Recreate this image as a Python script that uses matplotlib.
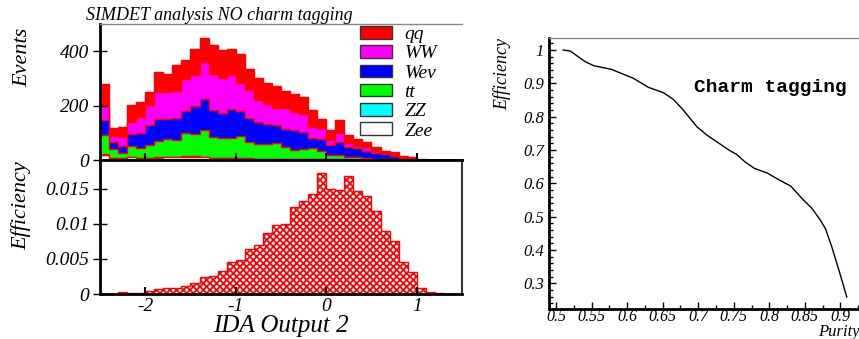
import numpy as np
import matplotlib
matplotlib.use("Agg")
import matplotlib.pyplot as plt
from matplotlib.patches import Patch
from matplotlib.ticker import MultipleLocator, FuncFormatter

plt.rcParams['font.family'] = ['Liberation Serif', 'DejaVu Serif']
plt.rcParams['font.style'] = 'italic'
plt.rcParams['hatch.linewidth'] = 1.3
plt.rcParams['axes.unicode_minus'] = False

# IDA output 2 binning: 40 bins of 0.1 from -2.5 to 1.5
edges = np.round(np.arange(-2.5, 1.51, 0.1), 2)

# events per bin for each sample
zee = [20, 8, 5, 10, 7, 8, 8, 10, 10, 12, 12, 10, 7, 6, 7, 6, 5, 4, 4, 3,
       3, 3, 3, 3, 2, 2, 2, 1, 1, 1, 1, 0, 0, 0, 0, 0, 0, 0, 0, 0]
zz = [1, 1, 1, 1, 1, 1, 2, 2, 2, 3, 3, 2, 2, 2, 2, 2, 1, 1, 1, 1,
      1, 1, 1, 1, 1, 1, 1, 1, 0, 0, 0, 0, 0, 0, 0, 0, 0, 0, 0, 0]
tt = [72, 31, 18, 40, 37, 48, 60, 64, 63, 83, 82, 100, 74, 73, 71, 79, 60, 54, 54, 60,
      45, 33, 36, 41, 31, 16, 15, 10, 9, 6, 4, 4, 3, 1, 1, 0, 0, 0, 0, 0]
wev = [54, 28, 29, 44, 55, 71, 79, 74, 80, 82, 101, 112, 100, 93, 108, 94, 89, 82, 75, 64,
       65, 73, 64, 35, 42, 36, 49, 37, 33, 27, 19, 17, 12, 5, 2, 1, 0, 0, 0, 0]
ww = [51, 20, 33, 46, 59, 74, 101, 100, 99, 116, 116, 136, 135, 128, 124, 103, 104, 79, 72, 65,
      79, 65, 64, 42, 40, 18, 31, 12, 8, 13, 9, 3, 2, 1, 1, 0, 0, 0, 0, 0]
qq = [80, 30, 36, 61, 55, 48, 72, 66, 95, 71, 93, 88, 104, 102, 96, 105, 77, 83, 78, 79,
      60, 66, 64, 61, 33, 37, 49, 31, 25, 19, 14, 10, 11, 8, 7, 2, 1, 0, 0, 0]

# charm signal efficiency per bin
eff = [0.00003, 0.00003, 0.00024, 0.0002, 0.0002, 0.0004, 0.0007, 0.00086, 0.00086, 0.0011,
       0.0016, 0.0024, 0.0025, 0.0033, 0.0045, 0.0049, 0.0064, 0.0070, 0.0087, 0.0099,
       0.0100, 0.0124, 0.0133, 0.0142, 0.0173, 0.0150, 0.0148, 0.0168, 0.0147, 0.0140,
       0.0119, 0.0090, 0.0075, 0.0045, 0.0031, 0.0009, 0.0003, 0.0001, 0.00005, 0.0]

# efficiency vs purity curve
purity = [0.510, 0.520, 0.541, 0.553, 0.578, 0.609, 0.630, 0.651, 0.665, 0.679,
          0.698, 0.712, 0.726, 0.743, 0.754, 0.766, 0.779, 0.797, 0.814, 0.830,
          0.848, 0.860, 0.872, 0.879, 0.888, 0.898, 0.909]
effic = [1.0, 0.997, 0.965, 0.953, 0.942, 0.915, 0.888, 0.872, 0.852, 0.820,
         0.770, 0.745, 0.725, 0.700, 0.687, 0.664, 0.645, 0.631, 0.610, 0.592,
         0.550, 0.525, 0.489, 0.464, 0.409, 0.339, 0.259]

samples = [("qq", qq, "#ff0000"), ("WW", ww, "#ff00ff"), ("Weν", wev, "#0000ff"),
           ("tt", tt, "#00ff00"), ("ZZ", zz, "#00ffff"), ("Zee", zee, "#ffffff")]

fig = plt.figure(figsize=(8.59, 3.39), dpi=100)
ax1 = fig.add_axes([0.1164, 0.528, 0.4214, 0.4012])
ax2 = fig.add_axes([0.1164, 0.1327, 0.4214, 0.3953])
ax3 = fig.add_axes([0.6388, 0.0876, 0.366, 0.8012])

# stacked histogram, draw cumulative from the top down
cum = np.zeros(len(qq))
stack = []
for name, vals, col in samples[::-1]:
    cum = cum + np.array(vals)
    stack.append((name, cum.copy(), col))
for name, c, col in stack[::-1]:
    ax1.stairs(c, edges, fill=True, facecolor=col, edgecolor='red', linewidth=1)

ax1.set_xlim(-2.5, 1.5)
ax1.set_ylim(0, 500)
ax1.set_xticks([-2, -1, 0, 1])
ax1.set_xticklabels([])
ax1.set_yticks([0, 200, 400])
ax1.set_ylabel("Events", fontsize=16)
ax1.yaxis.set_label_coords(-0.188, 0.757)
ax1.set_title("SIMDET analysis NO charm tagging", fontsize=13, loc='left',
              x=-0.04, pad=2)

handles = [Patch(facecolor=col, edgecolor='#333333', linewidth=1) for _, _, col in samples]
ax1.legend(handles, [s[0] for s in samples], loc='upper left', bbox_to_anchor=(0.718, 0.985),
           frameon=False, fontsize=14, handlelength=1.65, handleheight=0.62,
           labelspacing=0.11, handletextpad=0.65, borderpad=0, borderaxespad=0)

ax2.stairs(eff, edges, fill=True, facecolor='white', edgecolor='red', hatch='xxxxx',
           linewidth=1)
ax2.set_xlim(-2.5, 1.5)
ax2.set_ylim(0, 0.0191)
ax2.set_xticks([-2, -1, 0, 1])
ax2.set_yticks([0, 0.005, 0.01, 0.015])
ax2.yaxis.set_major_formatter(FuncFormatter(lambda v, p: "%g" % v))
ax2.set_ylabel("Efficiency", fontsize=16)
ax2.yaxis.set_label_coords(-0.19, 0.657)
ax2.set_xlabel("IDA Output 2", fontsize=18, labelpad=0)

for ax in (ax1, ax2):
    ax.tick_params(axis='x', direction='in', length=5, width=1.5, labelsize=14, pad=3)
    ax.tick_params(axis='y', direction='inout', length=10, width=1, labelsize=14, pad=3)
    ax.spines['left'].set_linewidth(2)
    ax.spines['bottom'].set_linewidth(2)
ax1.spines['top'].set_color('#888888')
ax1.spines['top'].set_linewidth(1)
ax1.spines['right'].set_visible(False)
ax2.spines['top'].set_linewidth(2)
ax2.spines['right'].set_linewidth(1.5)
ax2.spines['right'].set_color('#333333')

# efficiency vs purity
ax3.plot(purity, effic, color='black', linewidth=1)
ax3.set_xlim(0.4897, 0.932)
ax3.set_ylim(0.222, 1.037)
ax3.xaxis.set_major_locator(MultipleLocator(0.05))
ax3.xaxis.set_minor_locator(MultipleLocator(0.025))
ax3.yaxis.set_major_locator(MultipleLocator(0.1))
ax3.yaxis.set_minor_locator(MultipleLocator(0.02))
ax3.xaxis.set_major_formatter(FuncFormatter(lambda v, p: "%g" % round(v, 3)))
ax3.yaxis.set_major_formatter(FuncFormatter(lambda v, p: "%g" % round(v, 3)))
ax3.tick_params(which='major', direction='in', length=5, width=1, labelsize=12)
ax3.tick_params(which='minor', direction='in', length=3, width=1)
ax3.tick_params(axis='x', pad=0, labelsize=11.5)
ax3.set_ylabel("Efficiency", fontsize=13)
ax3.yaxis.set_label_coords(-0.12, 1.0)
ax3.yaxis.label.set_horizontalalignment('right')
ax3.set_xlabel("Purity", fontsize=12)
ax3.xaxis.set_label_coords(0.99, -0.099)
ax3.xaxis.label.set_horizontalalignment('right')
ax3.xaxis.label.set_verticalalignment('baseline')
ax3.spines['left'].set_linewidth(2)
ax3.spines['bottom'].set_linewidth(2)
ax3.spines['top'].set_color('#888888')
ax3.spines['top'].set_linewidth(1)
ax3.spines['right'].set_visible(False)
ax3.text(0.462, 0.815, "Charm tagging", transform=ax3.transAxes, fontsize=14,
         family='Liberation Mono', style='normal', weight='bold', va='center')

fig.savefig("out.png", dpi=100)
